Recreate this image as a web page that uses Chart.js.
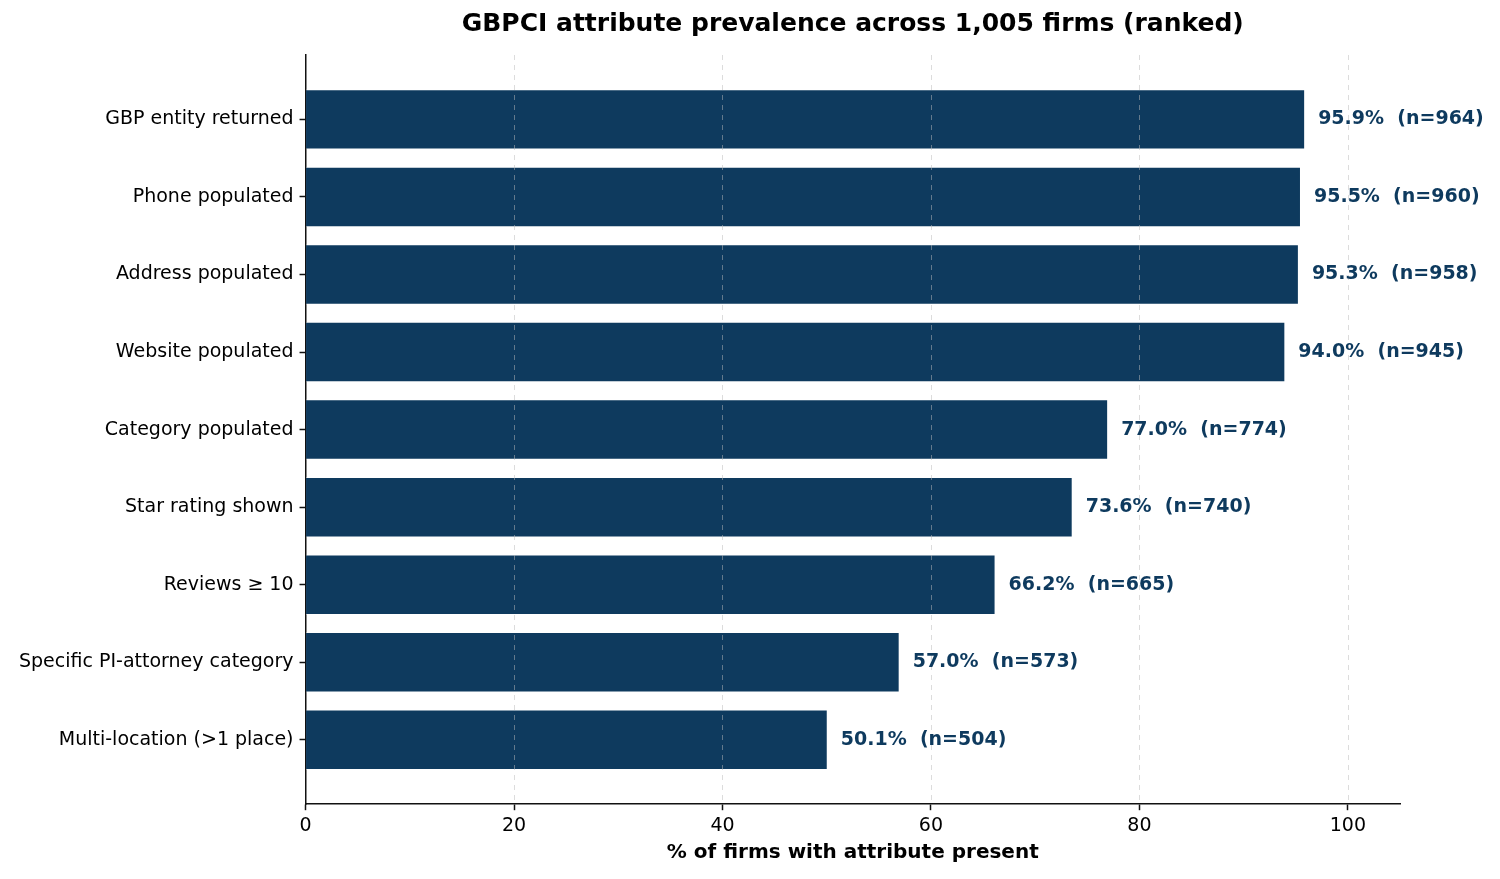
<!DOCTYPE html>
<html>
<head>
<meta charset="utf-8">
<script src="https://cdn.jsdelivr.net/npm/chart.js@4.4.1/dist/chart.umd.min.js"></script>
<style>
  html, body { margin: 0; padding: 0; background: #fff; }
  #wrap { width: 1500px; height: 879px; }
</style>
</head>
<body>
<div id="wrap"><canvas id="barChart" width="1500" height="879"></canvas></div>
<script>
// data
const attributes = [
    'GBP entity returned',
    'Phone populated',
    'Address populated',
    'Website populated',
    'Category populated',
    'Star rating shown',
    'Reviews \u2265 10',
    'Specific PI-attorney category',
    'Multi-location (>1 place)'
];
const percentPresent = [95.9, 95.5, 95.3, 94.0, 77.0, 73.6, 66.2, 57.0, 50.1];
const firmCounts = [964, 960, 958, 945, 774, 740, 665, 573, 504];
const xTicks = [0, 20, 40, 60, 80, 100];

const BAR_COLOR = '#0e3a5e';
const FONT = "'DejaVu Sans', sans-serif";

// dashed vertical grid drawn on top of the bars (like the original),
// then the "95.9%  (n=964)" text right of each bar
const overlay = {
    id: 'overlay',
    afterDatasetsDraw(chart) {
        const ctx = chart.ctx;
        const area = chart.chartArea;
        const xScale = chart.scales.x;
        ctx.save();
        ctx.strokeStyle = 'rgba(185,185,185,0.5)';
        ctx.lineWidth = 1;
        ctx.setLineDash([5, 5]);
        xTicks.forEach(v => {
            if (v === 0) return;
            const px = Math.round(xScale.getPixelForValue(v)) + 0.5;
            ctx.beginPath();
            ctx.moveTo(px, area.top);
            ctx.lineTo(px, area.bottom);
            ctx.stroke();
        });
        ctx.setLineDash([]);

        const meta = chart.getDatasetMeta(0);
        ctx.font = `bold 19px ${FONT}`;
        ctx.fillStyle = BAR_COLOR;
        ctx.textBaseline = 'middle';
        meta.data.forEach((bar, i) => {
            const txt = percentPresent[i].toFixed(1) + '%  (n=' + firmCounts[i] + ')';
            ctx.fillText(txt, bar.x + 13, bar.y);
        });
        ctx.restore();
    }
};

Chart.defaults.font.family = FONT;
Chart.defaults.color = '#111';

new Chart(document.getElementById('barChart').getContext('2d'), {
    type: 'bar',
    data: {
        datasets: [{
            data: percentPresent.map((v, i) => ({ x: v, y: i })),
            backgroundColor: BAR_COLOR,
            borderColor: 'rgba(255,255,255,0.35)',
            borderWidth: 1,
            categoryPercentage: 0.78,
            barPercentage: 1
        }]
    },
    options: {
        indexAxis: 'y',
        responsive: false,
        animation: false,
        layout: { padding: { left: 13, right: 100, top: 0, bottom: 14 } },
        plugins: {
            legend: { display: false },
            tooltip: { enabled: false },
            title: {
                display: true,
                fullSize: false,
                text: 'GBPCI attribute prevalence across 1,005 firms (ranked)',
                font: { size: 25, weight: 'bold' },
                color: '#000',
                padding: { top: 9, bottom: 16 }
            }
        },
        scales: {
            x: {
                type: 'linear',
                min: 0,
                max: 105,
                afterBuildTicks: axis => { axis.ticks = xTicks.map(v => ({ value: v })); },
                ticks: { font: { size: 19 }, color: '#000', padding: 4 },
                grid: {
                    drawOnChartArea: false,
                    tickLength: 6,
                    tickWidth: 1.5,
                    tickColor: '#111'
                },
                border: { display: true, color: '#111', width: 1.5 },
                title: {
                    display: true,
                    text: '% of firms with attribute present',
                    font: { size: 20, weight: 'bold' },
                    color: '#000',
                    padding: { top: 0, bottom: 0 }
                }
            },
            y: {
                type: 'linear',
                reverse: true,
                offset: false,
                min: -0.83,
                max: 8.83,
                afterBuildTicks: axis => { axis.ticks = attributes.map((_, i) => ({ value: i })); },
                ticks: {
                    font: { size: 19 },
                    color: '#000',
                    padding: 6,
                    callback: v => attributes[v]
                },
                grid: { offset: false, drawOnChartArea: false, tickLength: 6, tickWidth: 1.5, tickColor: '#111' },
                border: { display: true, color: '#111', width: 1.5 }
            }
        }
    },
    plugins: [overlay]
});
</script>
</body>
</html>
